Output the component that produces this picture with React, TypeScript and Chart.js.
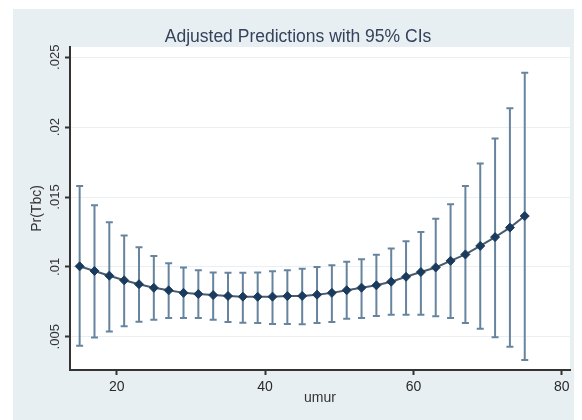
import React, { useEffect, useRef } from "react";
import { Chart, registerables } from "chart.js";

Chart.register(...registerables);

const ages = [15, 17, 19, 21, 23, 25, 27, 29, 31, 33, 35, 37, 39, 41, 43, 45, 47, 49, 51, 53, 55, 57, 59, 61, 63, 65, 67, 69, 71, 73, 75];
const predicted = [0.01004, 0.00971, 0.00937, 0.00904, 0.00876, 0.0085, 0.00832, 0.00814, 0.00806, 0.00798, 0.00792, 0.00787, 0.00786, 0.00787, 0.00791, 0.00792, 0.00801, 0.00814, 0.00833, 0.00851, 0.00868, 0.00894, 0.00929, 0.00963, 0.00996, 0.01043, 0.01089, 0.0115, 0.01213, 0.01281, 0.01364];
const ciLower = [0.00435, 0.00495, 0.00537, 0.00575, 0.00607, 0.00622, 0.00635, 0.00635, 0.00635, 0.00622, 0.00606, 0.006, 0.00598, 0.00592, 0.00592, 0.0059, 0.00598, 0.00606, 0.00628, 0.00635, 0.00649, 0.00657, 0.00658, 0.00657, 0.00647, 0.00635, 0.00598, 0.00557, 0.00496, 0.00429, 0.00334];
const ciUpper = [0.01579, 0.01441, 0.01319, 0.01225, 0.0114, 0.01078, 0.01026, 0.00995, 0.00976, 0.0096, 0.00958, 0.00958, 0.0096, 0.00969, 0.00976, 0.00987, 0.01, 0.01011, 0.01036, 0.01054, 0.01086, 0.01132, 0.01184, 0.0125, 0.01345, 0.01448, 0.01579, 0.01739, 0.01919, 0.02136, 0.02389];

const yTickValues = [0.005, 0.01, 0.015, 0.02, 0.025];
const yTickLabels = [".005", ".01", ".015", ".02", ".025"];
const xTickValues = [20, 40, 60, 80];

const chartTitle = "Adjusted Predictions with 95% CIs";
const xTitle = "umur";
const yTitle = "Pr(Tbc)";

const BG = "#e8eff2";
const FONT = "'Liberation Sans', Arial, sans-serif";

export default function App() {
  const ref = useRef<HTMLCanvasElement | null>(null);

  useEffect(() => {
    document.body.style.overflow = "hidden";
    const canvas = ref.current;
    if (!canvas) return;

    const bgPlugin = {
      id: "bgPlugin",
      beforeDraw(chart: any) {
        const { ctx, width, height, chartArea } = chart;
        ctx.save();
        ctx.fillStyle = "#ffffff";
        ctx.fillRect(0, 0, width, height);
        ctx.fillStyle = BG;
        ctx.fillRect(5, 1, width - 5, height - 1);
        ctx.fillStyle = "#ffffff";
        ctx.fillRect(chartArea.left, chartArea.top, chartArea.right - chartArea.left, chartArea.bottom - chartArea.top);
        ctx.restore();
      },
    };

    const ciPlugin = {
      id: "ciPlugin",
      beforeDatasetsDraw(chart: any) {
        const { ctx } = chart;
        const xs = chart.scales.x;
        const ys = chart.scales.y;
        ctx.save();
        ctx.strokeStyle = "#67849f";
        ctx.lineWidth = 2;
        ages.forEach((a, i) => {
          const px = xs.getPixelForValue(a);
          const top = ys.getPixelForValue(ciUpper[i]);
          const bot = ys.getPixelForValue(ciLower[i]);
          ctx.beginPath();
          ctx.moveTo(px, top);
          ctx.lineTo(px, bot);
          ctx.moveTo(px - 3.5, top);
          ctx.lineTo(px + 3.5, top);
          ctx.moveTo(px - 3.5, bot);
          ctx.lineTo(px + 3.5, bot);
          ctx.stroke();
        });
        ctx.restore();
      },
      afterDraw(chart: any) {
        const { ctx } = chart;
        const ys = chart.scales.y;
        ctx.save();
        ctx.fillStyle = "#333333";
        ctx.font = `13px ${FONT}`;
        ctx.textAlign = "center";
        ctx.textBaseline = "middle";
        yTickValues.forEach((v, i) => {
          const py = ys.getPixelForValue(v);
          ctx.save();
          ctx.translate(47, py);
          ctx.rotate(-Math.PI / 2);
          ctx.fillText(yTickLabels[i], 0, 0);
          ctx.restore();
        });
        ctx.fillStyle = "#34425c";
        ctx.font = `17.5px ${FONT}`;
        ctx.textAlign = "center";
        ctx.textBaseline = "alphabetic";
        ctx.fillText(chartTitle, 290, 33.5);
        ctx.restore();
      },
    };

    const chart = new Chart(canvas, {
      type: "line",
      data: {
        datasets: [
          {
            data: ages.map((a, i) => ({ x: a, y: predicted[i] })),
            borderColor: "#4a5b6c",
            borderWidth: 2,
            pointStyle: "rectRot",
            pointRadius: 4.5,
            pointBackgroundColor: "#1a3b5e",
            pointBorderColor: "#1a3b5e",
            pointBorderWidth: 1,
            tension: 0,
          },
        ],
      },
      options: {
        animation: false,
        responsive: true,
        maintainAspectRatio: false,
        layout: { padding: { left: 0, right: 12, top: 39, bottom: 0 } },
        plugins: {
          legend: { display: false },
          tooltip: { enabled: false },
          title: { display: false },
        },
        scales: {
          x: {
            type: "linear",
            position: "bottom",
            min: 13.7,
            max: 81.1,
            afterBuildTicks: (s: any) => {
              s.ticks = xTickValues.map((v) => ({ value: v }));
            },
            afterFit: (s: any) => {
              s.height = 50;
            },
            ticks: {
              color: "#2a2a2a",
              font: { family: FONT, size: 14 },
              padding: 4,
              maxRotation: 0,
              callback: (v: any) => String(v),
            },
            grid: {
              drawOnChartArea: false,
              drawTicks: true,
              tickLength: 5,
              tickColor: "#333333",
              tickWidth: 2,
            },
            border: { display: true, color: "#333333", width: 2 },
            title: {
              display: true,
              text: xTitle,
              color: "#333333",
              font: { family: FONT, size: 14 },
              padding: { top: 0, bottom: 13.6 },
            },
          },
          y: {
            type: "linear",
            min: 0.00262,
            max: 0.025736,
            afterBuildTicks: (s: any) => {
              s.ticks = yTickValues.map((v) => ({ value: v }));
            },
            afterFit: (s: any) => {
              s.width = 62;
            },
            ticks: { display: false },
            grid: {
              color: "#e9eff2",
              lineWidth: 1,
              drawTicks: true,
              tickLength: 5,
              tickColor: "#333333",
              tickWidth: 2,
            },
            border: { display: true, color: "#333333", width: 2 },
            title: {
              display: true,
              text: yTitle,
              color: "#333333",
              font: { family: FONT, size: 14 },
              padding: { top: 20.6, bottom: 0 },
            },
          },
        },
      },
      plugins: [bgPlugin, ciPlugin],
    });

    return () => chart.destroy();
  }, []);

  return (
    <div style={{ position: "relative", width: 574, height: 412 }}>
      <canvas ref={ref} />
    </div>
  );
}
